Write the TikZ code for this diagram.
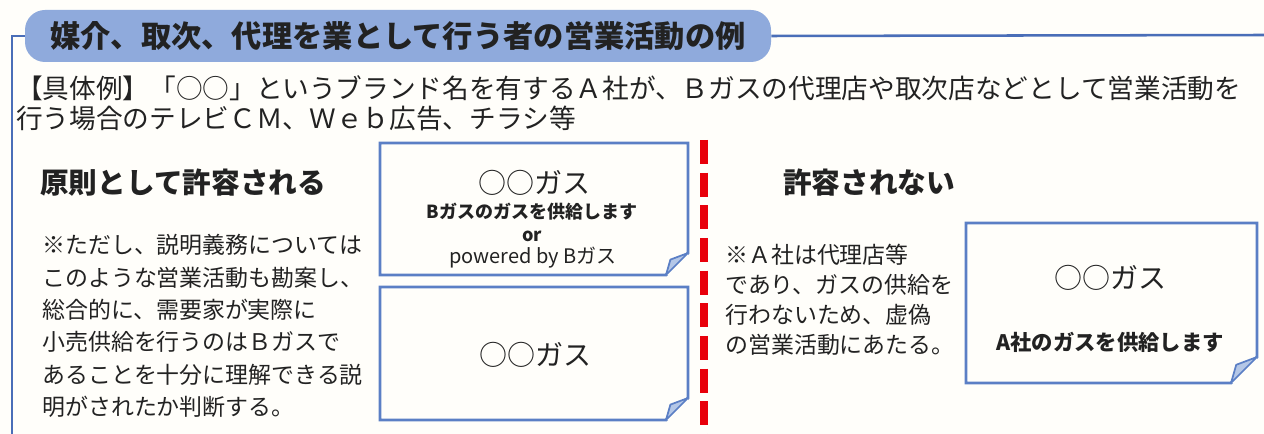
\documentclass[tikz,border=0pt]{standalone}
\usepackage{fontspec}
\setmainfont{Noto Sans CJK JP}
\definecolor{frameblue}{HTML}{4A6EB8}
\definecolor{titlefill}{HTML}{8FAADC}
\definecolor{boxblue}{HTML}{5B7FC5}
\definecolor{foldfill}{HTML}{B4C7E7}
\definecolor{dashred}{HTML}{E8000B}
\definecolor{txt}{HTML}{222222}
\definecolor{bgc}{HTML}{FFFEFA}
\tikzset{
  frameline/.style={draw=frameblue, line width=1.9pt},
  titlebox/.style={fill=titlefill, rounded corners=15pt, minimum width=559.5pt, minimum height=39pt, inner sep=0pt, font=\fontsize{22.7}{27}\selectfont\bfseries, text=txt},
  boxline/.style={draw=boxblue, line width=2.2pt, line join=miter},
  foldshape/.style={fill=foldfill, draw=boxblue, line width=1.3pt, line join=round},
  plain/.style={inner sep=0pt, text=txt},
  intro/.style={plain, align=left, font=\fontsize{20}{22.5}\selectfont},
  heading/.style={plain, font=\fontsize{21.5}{25}\selectfont\bfseries},
  notetext/.style={plain, align=left, font=\fontsize{17.2}{24.3}\selectfont},
  notetextb/.style={plain, align=left, font=\fontsize{17.2}{22.5}\selectfont},
  gasname/.style={plain, font=\fontsize{21}{25}\selectfont},
  gassub/.style={plain, font=\fontsize{13.5}{16}\selectfont\bfseries},
  gasplain/.style={plain, font=\fontsize{15}{18}\selectfont},
  gassubbig/.style={plain, font=\fontsize{16}{19}\selectfont\bfseries},
  reddash/.style={draw=dashred, line width=6pt, dash pattern=on 18pt off 6.5pt},
}
% x1 y1 x2 y2 fold
\newcommand{\foldbox}[5]{%
  \draw[boxline] ({#3-#5},#4) -- (#1,#4) -- (#1,#2) -- (#3,#2) -- (#3,{#4-#5}) -- cycle;
  \fill[bgc] ({#3-#5},#4) -- (#3,{#4-#5}) -- (#3+2,#4+2) -- cycle;
  \draw[foldshape] ({#3-#5},#4) -- ({#3-0.8*#5},{#4-0.7*#5}) -- (#3,{#4-#5}) -- cycle;
}
\begin{document}
\begin{tikzpicture}[x=0.75pt,y=-0.75pt]
\fill[bgc] (0,0) rectangle (1264,434);
\useasboundingbox (0,0) rectangle (1264,434);
\coordinate (fBL) at (12,434);
\coordinate (fR) at (1264,35);
\node[titlebox] (title) at (398,36) {媒介、取次、代理を業として行う者の営業活動の例};
\draw[frameline] (title.west) -| (fBL);
\draw[frameline] (title.east) -- (fR);

\node[intro, anchor=west] (intro) at (16,103) {【具体例】「○○」というブランド名を有するＡ社が、Ｂガスの代理店や取次店などとして営業活動を\\行う場合のテレビＣＭ、Ｗｅｂ広告、チラシ等};

\node[heading, anchor=west] (okhead) at (40,183) {原則として許容される};
\node[notetext, anchor=west] (oknote) at (42,326) {※ただし、説明義務については\\このような営業活動も勘案し、\\総合的に、需要家が実際に\\小売供給を行うのはＢガスで\\あることを十分に理解できる説\\明がされたか判断する。};

\node[heading, anchor=west] (nghead) at (783,183) {許容されない};
\node[notetextb, anchor=west] (ngnote) at (725,300) {※Ａ社は代理店等\\であり、ガスの供給を\\行わないため、虚偽\\の営業活動にあたる。};

\coordinate (dtop) at (704,140);
\coordinate (dbot) at (704,434);
\draw[reddash] (dtop) -- (dbot);

\foldbox{380}{143}{688}{275}{22}
\foldbox{380}{287}{688}{420}{22}
\foldbox{966}{223}{1257}{383}{26}

\node[gasname] (b1name) at (534,183) {○○ガス};
\node[gassub] (b1sub) at (532,212) {Bガスのガスを供給します};
\node[gassub] (b1or) at (532,236) {or};
\node[gasplain] (b1pw) at (533,258) {powered by Bガス};
\node[gasname] (b2name) at (535,355) {○○ガス};
\node[gasname] (b3name) at (1110,278) {○○ガス};
\node[gassubbig] (b3sub) at (1110,342) {A社のガスを供給します};
\end{tikzpicture}
\end{document}
